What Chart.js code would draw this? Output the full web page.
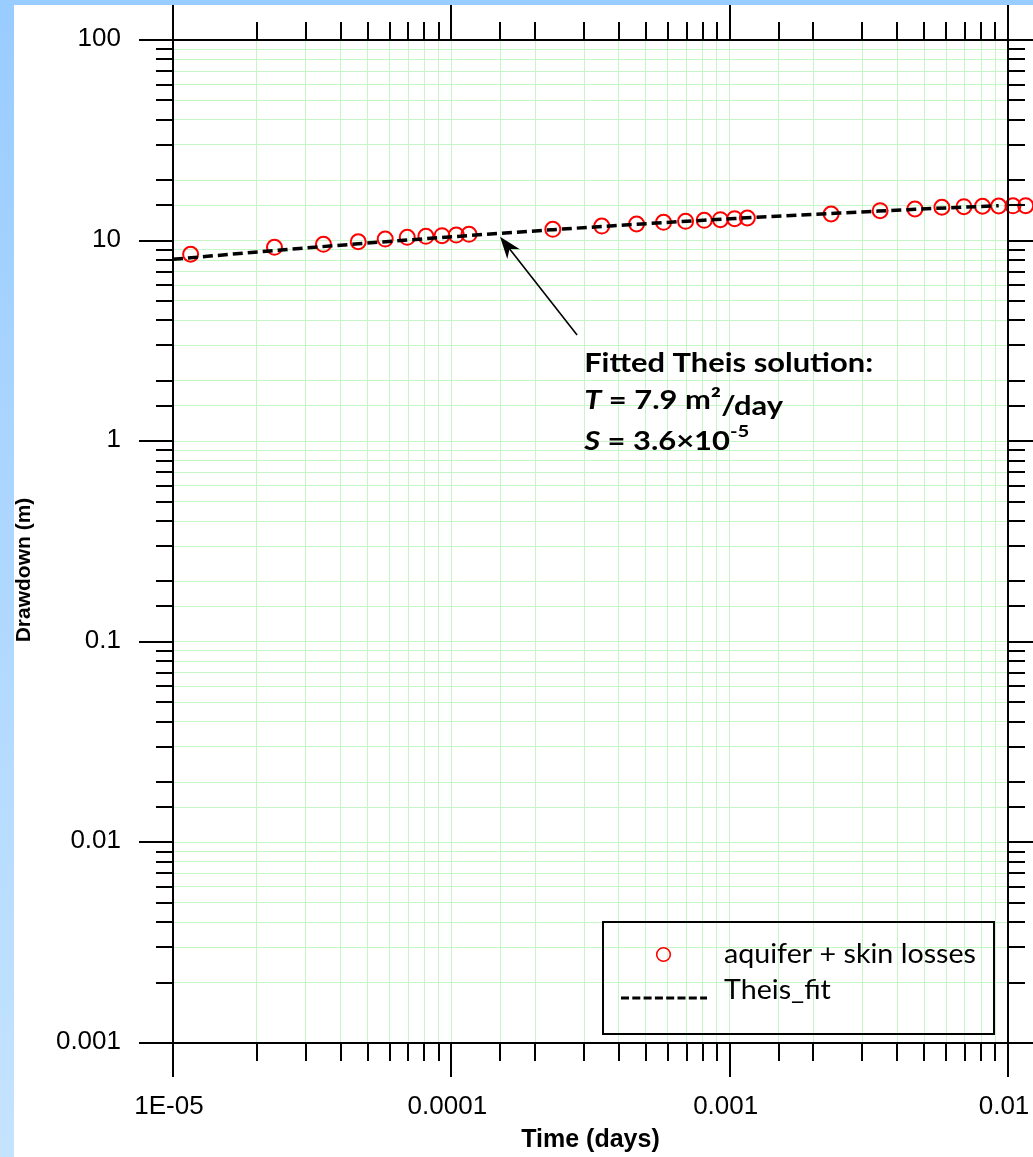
<!DOCTYPE html>
<html>
<head>
<meta charset="utf-8">
<script src="https://cdn.jsdelivr.net/npm/chart.js@4.4.1/dist/chart.umd.min.js"></script>
<style>
html,body{margin:0;padding:0;background:#fff;overflow:hidden;}
canvas{display:block;}
</style>
</head>
<body>
<canvas id="c" width="1033" height="1157"></canvas>
<script>
// ---- data ----
const timeDays = [
  1.157e-5, 2.315e-5, 3.472e-5, 4.630e-5, 5.787e-5, 6.944e-5, 8.102e-5, 9.259e-5, 1.0417e-4, 1.1574e-4,
  2.315e-4, 3.472e-4, 4.630e-4, 5.787e-4, 6.944e-4, 8.102e-4, 9.259e-4, 1.0417e-3, 1.1574e-3,
  2.315e-3, 3.472e-3, 4.630e-3, 5.787e-3, 6.944e-3, 8.102e-3, 9.259e-3, 1.0417e-2, 1.1574e-2
];
const drawdown = [
  8.55, 9.26, 9.58, 9.87, 10.18, 10.38, 10.50, 10.58, 10.66, 10.75,
  11.38, 11.82, 12.10, 12.34, 12.48, 12.62, 12.71, 12.86, 12.96,
  13.57, 14.10, 14.37, 14.66, 14.76, 14.83, 14.88, 14.90, 14.93
];
const fitTime = [1.0e-5, 2.315e-5, 4.63e-5, 1.157e-4, 2.315e-4, 4.63e-4, 1.042e-3, 2.315e-3, 4.63e-3, 9.26e-3];
const fitDrawdown = [8.07, 8.92, 9.64, 10.60, 11.33, 12.06, 12.89, 13.66, 14.32, 14.93];

const seriesNames = ['aquifer + skin losses', 'Theis_fit'];
const xTickValues = [1e-5, 1e-4, 1e-3, 1e-2];
const xTickLabels = ['1E-05', '0.0001', '0.001', '0.01'];
const yTickValues = [100, 10, 1, 0.1, 0.01, 0.001];
const yTickLabels = ['100', '10', '1', '0.1', '0.01', '0.001'];
const axisTitleX = 'Time (days)';
const axisTitleY = 'Drawdown (m)';
const noteText = ['Fitted Theis solution:', 'T', ' = 7.9 m\u00B2', '/day', 'S', ' = 3.6\u00D710', '-5'];
const arrowTip = [1.496e-4, 10.45];
const arrowTail = [2.83e-4, 3.38];
const noteAnchor = [3.0e-4, 2.22];

const W = 1033, H = 1157;
const GRID = '#c6f5c6';

function line(ctx, x1, y1, x2, y2) {
  ctx.beginPath(); ctx.moveTo(x1, y1); ctx.lineTo(x2, y2); ctx.stroke();
}
function isDecade(v) {
  const l = Math.log10(v);
  return Math.abs(l - Math.round(l)) < 1e-6;
}

const framePlugin = {
  id: 'framePlugin',
  beforeDraw(chart) {
    const ctx = chart.ctx;
    ctx.save();
    ctx.fillStyle = '#ffffff';
    ctx.fillRect(0, 0, W, H);
    const g = ctx.createLinearGradient(0, 0, 0, H);
    g.addColorStop(0, '#99ccff');
    g.addColorStop(1, '#c4e3ff');
    ctx.fillStyle = g;
    ctx.fillRect(0, 0, 14, H);
    ctx.fillStyle = '#99ccff';
    ctx.fillRect(0, 0, W, 5);
    ctx.restore();
  },
  afterDatasetsDraw(chart) {
    // points lying past the right axis (the reference draws them unclipped)
    const ctx = chart.ctx, a = chart.chartArea;
    const meta = chart.getDatasetMeta(1);
    const big = { left: -1e5, top: -1e5, right: 1e5, bottom: 1e5 };
    meta.data.forEach(el => {
      const m = (el.options.radius || 0) + (el.options.borderWidth || 0);
      if (el.x >= a.right + m || el.x <= a.left - m) el.draw(ctx, big);
    });
  },
  afterDraw(chart) {
    const ctx = chart.ctx;
    const xs = chart.scales.x, ys = chart.scales.y, a = chart.chartArea;
    ctx.save();
    ctx.strokeStyle = '#000';
    ctx.lineWidth = 2;
    ctx.lineCap = 'butt';
    ys.ticks.forEach(t => {
      const y = Math.round(ys.getPixelForValue(t.value));
      const L = isDecade(t.value) ? 34 : 17;
      line(ctx, a.left - L, y, a.left, y);
      line(ctx, a.right, y, a.right + L, y);
    });
    xs.ticks.forEach(t => {
      const x = Math.round(xs.getPixelForValue(t.value));
      const maj = isDecade(t.value);
      line(ctx, x, a.bottom, x, a.bottom + (maj ? 34 : 18));
      line(ctx, x, a.top - (maj ? 35 : 18), x, a.top);
    });
    ctx.strokeRect(a.left, a.top, a.right - a.left, a.bottom - a.top);

    // tick labels
    ctx.fillStyle = '#000';
    ctx.font = '26px "Liberation Sans", Arial, sans-serif';
    ctx.textAlign = 'right';
    ctx.textBaseline = 'alphabetic';
    yTickValues.forEach((v, i) => {
      const y = ys.getPixelForValue(v);
      ctx.fillText(yTickLabels[i], a.left - 52, y + 6);
    });
    ctx.textAlign = 'center';
    xTickValues.forEach((v, i) => {
      const x = xs.getPixelForValue(v);
      ctx.fillText(xTickLabels[i], x - 4, a.bottom + 71);
    });

    // axis titles
    ctx.textAlign = 'center';
    ctx.font = 'bold 25px "Liberation Sans", Arial, sans-serif';
    ctx.fillText(axisTitleX, (a.left + a.right) / 2, 1147);
    ctx.font = 'bold 21px "Liberation Sans", Arial, sans-serif';
    ctx.save();
    ctx.translate(30, 570);
    ctx.rotate(-Math.PI / 2);
    ctx.fillText(axisTitleY, 0, 0);
    ctx.restore();

    // arrow
    const tx = xs.getPixelForValue(arrowTip[0]), ty = ys.getPixelForValue(arrowTip[1]);
    const sx0 = xs.getPixelForValue(arrowTail[0]), sy0 = ys.getPixelForValue(arrowTail[1]);
    const ang = Math.atan2(ty - sy0, tx - sx0);
    ctx.lineWidth = 1.6;
    line(ctx, sx0, sy0, tx - Math.cos(ang) * 8, ty - Math.sin(ang) * 8);
    const hl = 22, hw = 8;
    const bx = tx - Math.cos(ang) * hl, by = ty - Math.sin(ang) * hl;
    const mx = tx - Math.cos(ang) * hl * 0.7, my = ty - Math.sin(ang) * hl * 0.7;
    ctx.beginPath();
    ctx.moveTo(tx, ty);
    ctx.lineTo(bx - Math.sin(ang) * hw, by + Math.cos(ang) * hw);
    ctx.lineTo(mx, my);
    ctx.lineTo(bx + Math.sin(ang) * hw, by - Math.cos(ang) * hw);
    ctx.closePath();
    ctx.fillStyle = '#000';
    ctx.fill();

    // annotation text
    const nx = xs.getPixelForValue(noteAnchor[0]), ny = ys.getPixelForValue(noteAnchor[1]);
    ctx.textAlign = 'left';
    ctx.font = 'bold 26px Lato, sans-serif';
    const sc = 289 / ctx.measureText(noteText[0]).width;
    ctx.save();
    ctx.translate(nx, ny);
    ctx.scale(sc, 1);
    ctx.fillText(noteText[0], 0, 0);
    ctx.font = 'italic bold 26px Lato, sans-serif';
    ctx.fillText(noteText[1], 0, 37);
    let p = ctx.measureText(noteText[1]).width;
    ctx.font = 'bold 26px Lato, sans-serif';
    ctx.fillText(noteText[2], p, 37);
    p += ctx.measureText(noteText[2]).width;
    ctx.fillText(noteText[3], p, 43.5);
    ctx.font = 'italic bold 26px Lato, sans-serif';
    ctx.fillText(noteText[4], 0, 78.5);
    p = ctx.measureText(noteText[4]).width;
    ctx.font = 'bold 26px Lato, sans-serif';
    ctx.fillText(noteText[5], p, 78.5);
    p += ctx.measureText(noteText[5]).width;
    ctx.font = 'bold 17px Lato, sans-serif';
    ctx.fillText(noteText[6], p, 65);
    ctx.restore();

    // legend
    ctx.lineWidth = 2;
    ctx.strokeStyle = '#000';
    ctx.strokeRect(603, 922, 391, 112);
    ctx.strokeStyle = '#ff0000';
    ctx.lineWidth = 1.6;
    ctx.beginPath(); ctx.arc(663.5, 954.5, 6.8, 0, Math.PI * 2); ctx.stroke();
    ctx.strokeStyle = '#000';
    ctx.lineWidth = 3;
    ctx.setLineDash([8, 3.3]);
    line(ctx, 621, 998, 707, 998);
    ctx.setLineDash([]);
    ctx.font = '26px Lato, sans-serif';
    const lsc = 252 / ctx.measureText(seriesNames[0]).width;
    ctx.save();
    ctx.translate(724, 0);
    ctx.scale(lsc, 1);
    ctx.fillText(seriesNames[0], 0, 963);
    ctx.fillText(seriesNames[1], 0, 999);
    ctx.restore();

    ctx.restore();
  }
};

new Chart(document.getElementById('c'), {
  type: 'scatter',
  data: {
    datasets: [
      {
        label: seriesNames[1],
        data: fitTime.map((t, i) => ({ x: t, y: fitDrawdown[i] })),
        showLine: true,
        borderColor: '#000',
        borderWidth: 3.5,
        borderDash: [10, 5],
        pointRadius: 0,
        cubicInterpolationMode: 'monotone',
        fill: false,
        clip: false,
        order: 0
      },
      {
        label: seriesNames[0],
        data: timeDays.map((t, i) => ({ x: t, y: drawdown[i] })),
        showLine: false,
        pointStyle: 'circle',
        pointRadius: 7.5,
        pointBorderWidth: 2,
        borderColor: '#ff0000',
        backgroundColor: 'rgba(0,0,0,0)',
        pointBackgroundColor: 'rgba(0,0,0,0)',
        clip: false,
        order: 1
      }
    ]
  },
  options: {
    responsive: false,
    animation: false,
    devicePixelRatio: 1,
    layout: { padding: { left: 173, top: 40, right: 25, bottom: 114 } },
    plugins: { legend: { display: false }, tooltip: { enabled: false } },
    events: [],
    scales: {
      x: {
        type: 'logarithmic',
        min: 1e-5, max: 1e-2,
        border: { display: false },
        grid: { color: GRID, lineWidth: 1, drawTicks: false },
        ticks: { display: false }
      },
      y: {
        type: 'logarithmic',
        min: 1e-3, max: 100,
        border: { display: false },
        grid: { color: GRID, lineWidth: 1, drawTicks: false },
        ticks: { display: false }
      }
    }
  },
  plugins: [framePlugin]
});
</script>
</body>
</html>
